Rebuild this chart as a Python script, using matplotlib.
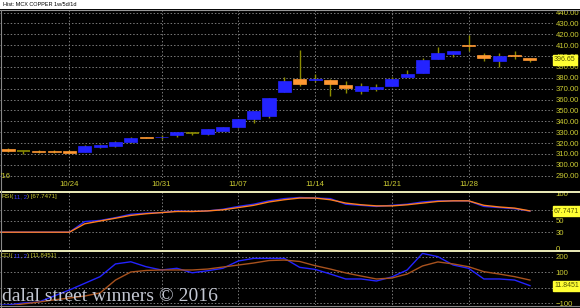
import matplotlib
matplotlib.use("Agg")
import matplotlib.pyplot as plt
from matplotlib.lines import Line2D
import numpy as np

plt.rcParams["font.family"] = ["Liberation Sans", "DejaVu Sans"]

# ---------------- data ----------------
opens  = [314.3, 312.5, 313.0, 312.6, 312.3, 312.1, 316.1, 317.6, 320.7, 325.6,
          325.2, 327.2, 329.0, 328.4, 331.1, 335.1, 342.1, 345.2, 367.0, 378.6,
          378.0, 378.0, 373.1, 367.9, 369.7, 372.8, 380.8, 384.2, 397.3, 401.9,
          410.2, 400.7, 395.7, 401.0, 398.2]
highs  = [315.2, 312.8, 313.7, 313.2, 313.4, 318.5, 318.8, 321.5, 325.3, 326.0,
          327.5, 330.4, 330.4, 332.9, 335.0, 342.1, 349.7, 361.6, 380.5, 405.6,
          383.5, 378.9, 377.0, 375.0, 374.3, 381.0, 387.2, 398.2, 408.6, 404.8,
          419.4, 403.1, 403.1, 404.6, 398.4]
lows   = [312.1, 310.2, 310.6, 310.6, 310.5, 312.1, 315.2, 316.5, 320.5, 324.8,
          324.2, 325.9, 327.0, 327.8, 330.8, 333.5, 338.2, 343.3, 366.8, 372.5,
          375.9, 363.3, 366.3, 365.1, 367.9, 372.5, 380.5, 384.0, 397.0, 398.9,
          404.9, 395.5, 389.7, 397.0, 394.3]
closes = [312.8, 312.5, 312.0, 311.6, 311.3, 317.6, 318.5, 321.3, 325.0, 325.0,
          326.0, 330.2, 329.0, 332.7, 334.8, 341.9, 349.5, 361.4, 377.1, 374.3,
          379.2, 374.6, 370.4, 372.5, 371.3, 378.9, 383.5, 396.4, 402.5, 404.6,
          409.0, 398.5, 400.3, 399.8, 396.65]

rsi     = [30, 30, 30, 30, 30, 49, 51, 56, 62, 64, 65, 68, 67, 68, 71, 76, 80, 86,
           90, 92, 91, 90, 80, 78, 76, 78, 80, 84, 86, 86, 86, 76, 74, 72, 67.7471]
rsi_avg = [30, 30, 30, 30, 30, 45, 50, 55, 60, 63, 65, 67, 67, 68, 70, 74, 78, 84,
           88, 91, 91, 88, 82, 79, 77, 77, 79, 82, 85, 86, 86, 78, 75, 73, 68]

cci     = [-113, -100, -94, -55, -16, 27, 70, 152, 166, 134, 113, 124, 95, 108, 124,
           171, 188, 188, 188, 130, 117, 87, 55, 55, 42, 68, 113, 220, 199, 145, 124,
           55, 55, 48, 11.8451]
cci_avg = [-120, -106, -94, -80, -68, -55, -35, 48, 100, 110, 113, 113, 113, 119, 132,
           145, 158, 174, 177, 168, 141, 119, 94, 74, 55, 61, 87, 139, 165, 152, 134,
           102, 87, 70, 48]

date_pos    = [4, 10, 15, 20, 25, 30]
date_labels = ["10/24", "10/31", "11/07", "11/14", "11/21", "11/28"]
price_ticks = [440, 430, 420, 410, 400, 390, 380, 370, 360, 350, 340, 330, 320, 310, 300, 290]

# ---------------- style ----------------
W, H = 580, 308
BG = "black"
TXT = "#cccc33"
GRID = "#7a7a7a"
UP = "#2323ff"
DOWN = "#ff9933"
WICK = "#8c8c00"
FS = 5.6

fig = plt.figure(figsize=(W / 100, H / 100), dpi=100, facecolor=BG)


def rect(l, t, r, b):
    return [l / W, 1 - b / H, (r - l) / W, (b - t) / H]


x = np.arange(len(closes))
XL = (-0.52, 35.5)


def style_ax(ax):
    ax.set_facecolor(BG)
    for s in ax.spines.values():
        s.set_visible(False)
    ax.set_xlim(*XL)
    ax.yaxis.tick_right()
    ax.tick_params(axis="both", length=0, colors=TXT, labelsize=FS, pad=2)
    for p in date_pos:
        ax.axvline(p, color=GRID, lw=0.7, ls=(0, (1.5, 2)), zorder=0)


def valbox(ax, frac, txt):
    ax.text(1.002, frac, txt, transform=ax.transAxes, ha="left", va="center",
            fontsize=5.0, color="#555500",
            bbox=dict(boxstyle="square,pad=0.22", fc="#ffff33", ec="#ffff33"), zorder=10)


# ---- main candlestick panel ----
ax = fig.add_axes(rect(0, 10, 553, 178))
style_ax(ax)
ax.set_ylim(287.9, 442.3)
ax.set_yticks(price_ticks)
ax.set_yticklabels([f"{v:.2f}" for v in price_ticks])
for v in price_ticks:
    ax.axhline(v, color=GRID, lw=0.7, ls=(0, (1.5, 2)), zorder=0)
ax.set_xticks(date_pos)
ax.set_xticklabels(date_labels)
ax.tick_params(axis="x", pad=2)

o = np.array(opens); c = np.array(closes); h = np.array(highs); l = np.array(lows)
ax.vlines(x, l, h, color=WICK, lw=1.0, zorder=2)
for i in range(len(x)):
    if abs(c[i] - o[i]) < 1e-9:
        ax.hlines(c[i], x[i] - 0.42, x[i] + 0.42, color=WICK, lw=1.2, zorder=3)
    else:
        col = UP if c[i] > o[i] else DOWN
        ax.bar(x[i], abs(c[i] - o[i]), bottom=min(o[i], c[i]), width=0.85,
               color=col, edgecolor=col, lw=0.5, zorder=3)

valbox(ax, (closes[-1] - 287.9) / (442.3 - 287.9), f"{closes[-1]:.2f}")

# ---- RSI panel ----
ar = fig.add_axes(rect(0, 192, 553, 251))
style_ax(ar)
ar.set_ylim(-3.6, 101.8)
ar.set_yticks([100, 50, 30, 0])
ar.set_xticks([])
for v in [70, 50, 30]:
    ar.axhline(v, color=GRID, lw=0.7, ls=(0, (1.5, 2)), zorder=0)
xr = np.concatenate([[-0.6], x])
ar.plot(xr, [rsi[0]] + rsi, color=UP, lw=1.0, zorder=3)
ar.plot(xr, [rsi_avg[0]] + rsi_avg, color="#ff7f1e", lw=1.0, zorder=4)
valbox(ar, (rsi[-1] + 3.6) / 105.4, f"{rsi[-1]:.4f}")

# ---- CCI panel ----
ac = fig.add_axes(rect(0, 251, 553, 305))
style_ax(ac)
ac.set_ylim(-112.9, 235.5)
ac.set_yticks([200, 100, -100])
ac.set_xticks([])
for v in [200, 100, 0, -100]:
    ac.axhline(v, color=GRID, lw=0.7, ls=(0, (1.5, 2)), zorder=0)
ac.plot(xr, [cci[0]] + cci, color=UP, lw=1.0, zorder=3)
ac.plot(xr, [cci_avg[0]] + cci_avg, color="#a8521e", lw=1.0, zorder=4)
valbox(ac, (cci[-1] + 112.9) / 348.4, f"{cci[-1]:.4f}")

# ---- separators, title bar, frame ----
for yy in [192, 251]:
    fig.add_artist(Line2D([0, 1], [1 - yy / H, 1 - yy / H], color="#ffffc8", lw=1.3))
fig.add_artist(plt.Rectangle((0, 1 - 9 / H), 1, 9 / H, transform=fig.transFigure,
                             fc="white", ec="none"))
fig.add_artist(Line2D([0, 1], [1 - 9.5 / H, 1 - 9.5 / H], color="#999999", lw=0.8))
fig.add_artist(Line2D([0.5 / W, 0.5 / W], [0, 1 - 10 / H], color="#888888", lw=0.8))
fig.add_artist(Line2D([0, 1], [1 - 305.5 / H, 1 - 305.5 / H], color="#888888", lw=0.8))
fig.text(3 / W, 1 - 4.8 / H, "Hist: MCX COPPER 1w/5d/1d", fontsize=4.0, color="black",
         va="center", ha="left")
fig.text(1 / W, 1 - 176.5 / H, "'16", fontsize=FS, color=TXT, va="center", ha="left")


# indicator titles (pieces chained one after another)
def chain_title(y, parts):
    cols = [TXT, "#3a3aff", TXT]
    prev = fig.text(1 / W, 1 - y / H, parts[0], fontsize=4.4, color=cols[0],
                    va="baseline", ha="left")
    for t, col in zip(parts[1:], cols[1:]):
        prev = plt.annotate(t, xy=(1, 0), xycoords=prev, xytext=(0.3, 0),
                            textcoords="offset points", fontsize=4.4, color=col,
                            va="bottom", ha="left", annotation_clip=False)


chain_title(198, ["RSI(", "11, 2", ") [67.7471]"])
chain_title(257, ["CCI(", "11, 2", ") [11.8451]"])

# watermark
fig.text(2 / W, 1 - 300.7 / H, "dalal street winners © 2016", family="Liberation Serif",
         fontsize=14.0, color="#d4d8e4", alpha=0.92, va="baseline", ha="left", zorder=20)

fig.savefig("out.png", dpi=100, facecolor=BG)
